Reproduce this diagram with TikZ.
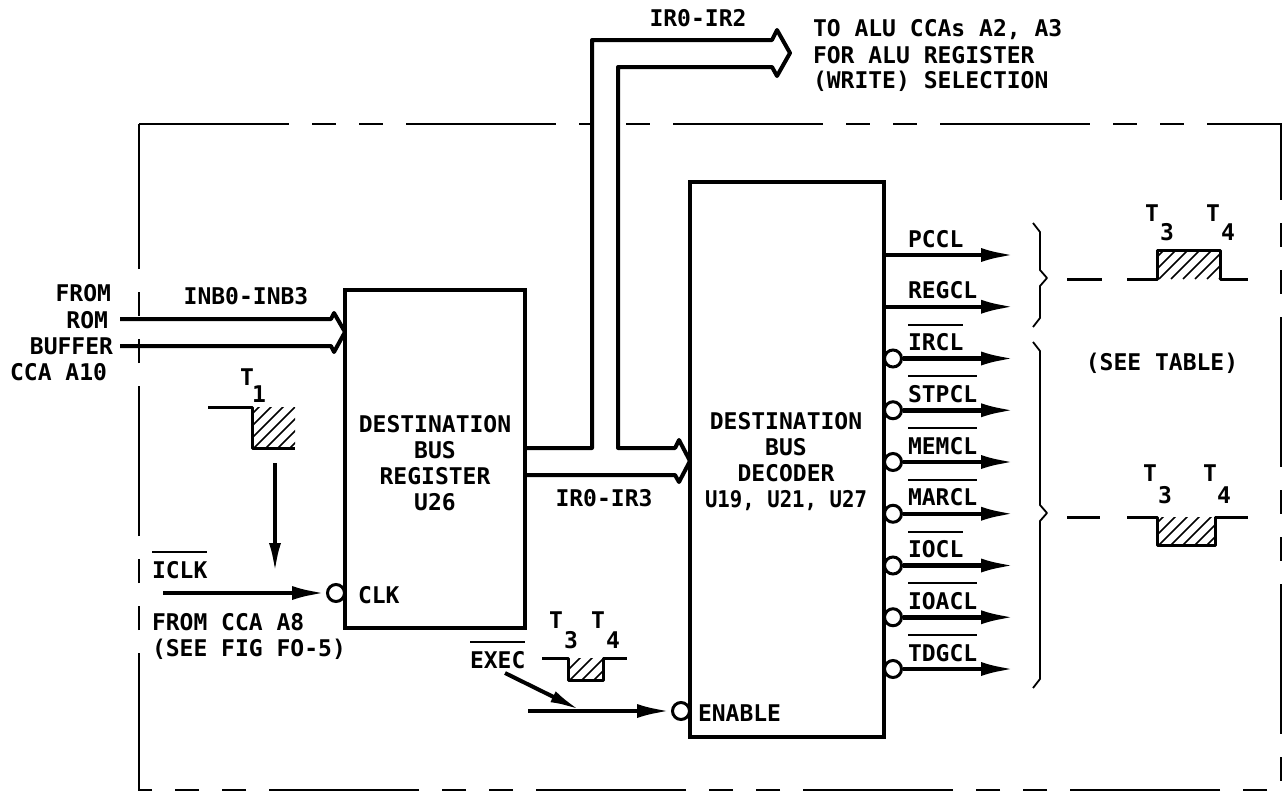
\documentclass[tikz,border=0pt]{standalone}
\usepackage{fontspec}
\newfontfamily\plotfont{DejaVu Sans Mono Bold}
\usetikzlibrary{arrows.meta}
\newcommand\ovl[1]{\sbox0{#1}\rlap{\rule[25pt]{\wd0}{1.8pt}}\usebox0}
\newcommand\myhatch[4]{%
  \begin{scope}
    \clip (#1,#2) rectangle (#3,#4);
    \foreach \k in {0,12,...,144} \draw[hatchline] ({#1-70+\k},#4) -- ++(80,-80);
  \end{scope}}
\begin{document}
\begin{tikzpicture}[x=1pt,y=-1pt,
  txt/.style={font=\plotfont\fontsize{23}{26}\selectfont, inner sep=0pt, outer sep=0pt},
  box/.style={draw, line width=4pt, inner sep=0pt, outer sep=0pt, fill=white},
  bus/.style={line width=4pt, line join=round},
  sig/.style={line width=4.5pt, -{Latex[length=34pt,width=14pt]}},
  bubble/.style={circle, draw, line width=3pt, fill=white, minimum size=17pt, inner sep=0pt},
  wave/.style={line width=3pt, line join=round},
  hatchline/.style={line width=1.5pt},
  brace/.style={line width=1.8pt, line join=round},
  border/.style={line width=2.2pt, dash pattern=on 150pt off 23pt on 24pt off 23pt on 24pt off 23pt}
]
\useasboundingbox (0,0) rectangle (1284,798);

% dashed enclosure
\draw[border] (139,124) -- (1281,124) -- (1281,790) -- (139,790) -- cycle;

% bus from register: up to ALU and right to decoder
\coordinate (busA) at (527,448);
\coordinate (busB) at (527,475);
\path[fill=white] (busA) -- (592,448) -- (592,40) -- (772,40) -- (777,30) -- (790,53) -- (777,76) -- (772,67) -- (618,67) -- (618,448) -- (675,448) -- (679,440) -- (690,461) -- (679,482) -- (675,475) -- (busB) -- cycle;
\draw[bus] (busA) -- (592,448) -- (592,40) -- (772,40) -- (777,30) -- (790,53) -- (777,76) -- (772,67) -- (618,67) -- (618,448) -- (675,448) -- (679,440) -- (690,461) -- (679,482) -- (675,475) -- (busB);

% input bus
\coordinate (inA) at (120,319);
\coordinate (inB) at (120,346);
\draw[bus] (inA) -- (331,319) -- (334,313) -- (345,332) -- (334,352) -- (331,346) -- (inB);

% boxes
\node[box, minimum width=180pt, minimum height=338pt] (reg) at (435,459) {};
\node[box, minimum width=194pt, minimum height=555pt] (dec) at (787,459.5) {};
\node[txt, align=center] (regtxt) at (435,463) {DESTINATION\\BUS\\REGISTER\\U26};
\node[txt, align=center] (dectxt) at (786,462) {DESTINATION\\BUS\\DECODER\\\scalebox{0.9}[1]{U19, U21, U27}};

% left labels
\node[txt, anchor=base east] (from1) at (111,301) {FROM};
\node[txt, anchor=base east] (from2) at (108,328) {ROM};
\node[txt, anchor=base east] (from3) at (113,354) {BUFFER};
\node[txt, anchor=base east] (from4) at (107,380) {CCA A10};
\node[txt, anchor=base] (inb) at (246,304) {INB0-INB3};

% T1 waveform
\node[txt] (t1T) at (247,377) {T};
\node[txt] (t1n) at (259,394) {1};
\myhatch{252}{407}{295}{448}
\draw[wave] (208,407) -- (252,407) -- (252,448) -- (295,448);
\coordinate (t1a) at (275,463);
\coordinate (t1b) at (275,573);
\draw[line width=4pt, -{Latex[length=30pt,width=12pt]}] (t1a) -- (t1b);

% ICLK
\node[txt, anchor=base west] (iclk) at (152,578) {\ovl{ICLK}};
\node[bubble] (clkb) at (336,593) {};
\coordinate (clk0) at (163,593);
\draw[sig] (clk0) -- (clkb.west);
\node[txt, anchor=base west] (clk) at (358,603) {CLK};
\node[txt, anchor=base west] (fa8) at (152,630) {FROM CCA A8};
\node[txt, anchor=base west] (fig) at (152,656) {(SEE FIG FO-5)};

% bus labels
\node[txt, anchor=base] (ir02) at (698,26) {IR0-IR2};
\node[txt, anchor=base] (ir03) at (604,506) {IR0-IR3};
\node[txt, anchor=base west] (alu1) at (813,36) {TO ALU CCAs A2, A3};
\node[txt, anchor=base west] (alu2) at (813,63) {FOR ALU REGISTER};
\node[txt, anchor=base west] (alu3) at (813,88) {(WRITE) SELECTION};

% ENABLE / EXEC
\node[bubble] (enb) at (681,711) {};
\coordinate (en0) at (528,711);
\draw[sig] (en0) -- (enb.west);
\node[txt, anchor=base west] (enable) at (698,721) {ENABLE};
\coordinate (ex0) at (505,673);
\coordinate (ex1) at (580,710);
\draw[line width=4pt, -{Latex[length=30pt,width=12pt]}] (ex0) -- (ex1);
\node[txt, anchor=base west] (exec) at (470,668) {\ovl{EXEC}};
\myhatch{568}{658}{603}{680}
\draw[wave] (542,658) -- (568,658) -- (568,680) -- (603,680) -- (603,658) -- (627,658);
\node[txt] (exT3) at (556,620) {T};
\node[txt] (ex3) at (571,640) {3};
\node[txt] (exT4) at (598,620) {T};
\node[txt] (ex4) at (613,640) {4};

% decoder outputs
\coordinate (o1) at (1015,255);
\draw[sig] (dec.east |- o1) -- (o1);
\node[txt, anchor=base west] (pccl) at (908,247) {PCCL};
\coordinate (o2) at (1015,306.75);
\draw[sig] (dec.east |- o2) -- (o2);
\node[txt, anchor=base west] (regcl) at (908,298.75) {REGCL};
\foreach \i/\nm in {2/IRCL,3/STPCL,4/MEMCL,5/MARCL,6/IOCL,7/IOACL,8/TDGCL}{
  \pgfmathsetmacro\yy{255+51.75*\i}
  \node[bubble] (b\i) at (893,\yy) {};
  \coordinate (e\i) at (1015,\yy);
  \draw[sig] (b\i.east) -- (e\i);
  \node[txt, anchor=base west] (l\i) at (908,\yy-8) {\ovl{\nm}};
}

% braces
\draw[brace] (1033,223) -- (1040,232) -- (1040,270) -- (1047,278) -- (1040,286) -- (1040,318) -- (1033,327);
\draw[brace] (1033,342) -- (1040,351) -- (1040,505) -- (1047,513) -- (1040,521) -- (1040,679) -- (1033,688);

% upper right waveform
\myhatch{1157}{250}{1220}{279}
\draw[wave] (1067,279) -- (1102,279);
\draw[wave] (1127,279) -- (1157,279) -- (1157,250) -- (1220,250) -- (1220,279) -- (1248,279);
\node[txt] (uT3) at (1152,213) {T};
\node[txt] (u3) at (1167,232) {3};
\node[txt] (uT4) at (1213,213) {T};
\node[txt] (u4) at (1228,232) {4};

\node[txt, anchor=base] (seetab) at (1162,370) {(SEE TABLE)};

% lower right waveform
\myhatch{1157}{517}{1215}{545}
\draw[wave] (1067,517) -- (1100,517);
\draw[wave] (1127,517) -- (1157,517) -- (1157,545) -- (1215,545) -- (1215,517) -- (1248,517);
\node[txt] (lT3) at (1150,473) {T};
\node[txt] (l3) at (1165,495) {3};
\node[txt] (lT4) at (1210,473) {T};
\node[txt] (l4) at (1224,495) {4};
\end{tikzpicture}
\end{document}
